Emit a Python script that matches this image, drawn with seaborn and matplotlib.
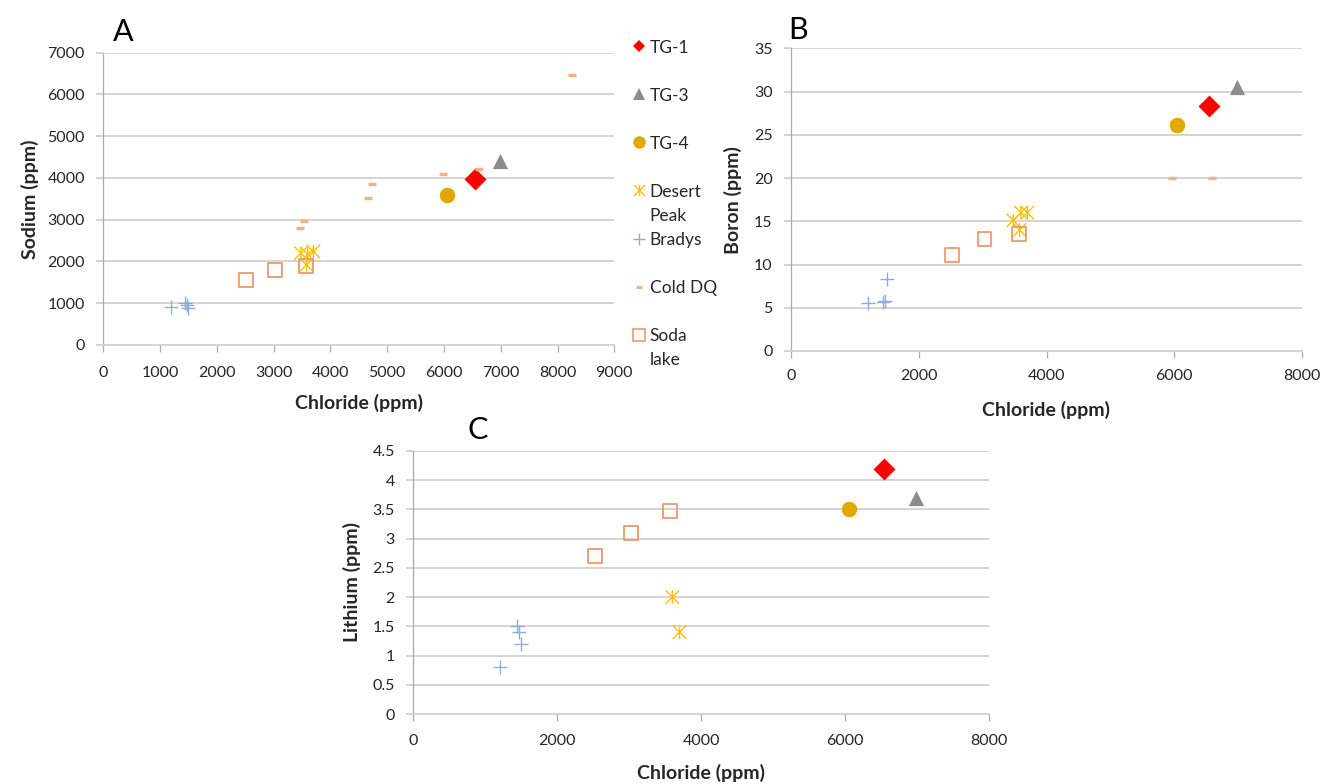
import numpy as np
import pandas as pd
import matplotlib
matplotlib.use("Agg")
import matplotlib.pyplot as plt
from matplotlib.lines import Line2D
from matplotlib.path import Path
from matplotlib.ticker import MultipleLocator, FuncFormatter
import seaborn as sns

sns.set_theme(style="white")
plt.rcParams["font.family"] = ["Lato", "DejaVu Sans"]

# ---- data (ppm) ----
sites = ["TG-1", "TG-3", "TG-4", "Desert Peak", "Bradys", "Cold DQ", "Soda lake"]

tg1_cl = [6540]
tg1_na = [3970]
tg1_b = [28.3]
tg1_li = [4.2]

tg3_cl = [6980]
tg3_na = [4400]
tg3_b = [30.5]
tg3_li = [3.7]

tg4_cl = [6050]
tg4_na = [3600]
tg4_b = [26.1]
tg4_li = [3.5]

dp_cl = [3480, 3600, 3700, 3580]
dp_na = [2200, 2170, 2240, 1920]
dp_b = [15.1, 16.0, 16.0, 14.0]
dp_li_cl = [3600, 3700]
dp_li = [2.0, 1.4]

br_cl = [1200, 1440, 1470, 1500]
br_na = [920, 1000, 960, 880]
br_b = [5.55, 5.7, 5.8, 8.3]
br_li = [0.8, 1.5, 1.4, 1.2]

cdq_na_cl = [3460, 3530, 4670, 4730, 5990, 6610, 8260]
cdq_na = [2790, 2970, 3530, 3850, 4100, 4220, 6470]
cdq_b_cl = [5970, 6590]
cdq_b = [20, 20]

sl_cl = [2520, 3030, 3570]
sl_na = [1560, 1800, 1890]
sl_b = [11.15, 13.0, 13.5]
sl_li = [2.7, 3.1, 3.47]


def frame(pairs):
    rows = []
    for site, xs, ys in pairs:
        for x, y in zip(xs, ys):
            rows.append({"site": site, "chloride": x, "value": y})
    return pd.DataFrame(rows)


sodium = frame([
    ("TG-1", tg1_cl, tg1_na), ("TG-3", tg3_cl, tg3_na), ("TG-4", tg4_cl, tg4_na),
    ("Desert Peak", dp_cl, dp_na), ("Bradys", br_cl, br_na),
    ("Cold DQ", cdq_na_cl, cdq_na), ("Soda lake", sl_cl, sl_na),
])
boron = frame([
    ("TG-1", tg1_cl, tg1_b), ("TG-3", tg3_cl, tg3_b), ("TG-4", tg4_cl, tg4_b),
    ("Desert Peak", dp_cl, dp_b), ("Bradys", br_cl, br_b),
    ("Cold DQ", cdq_b_cl, cdq_b), ("Soda lake", sl_cl, sl_b),
])
lithium = frame([
    ("TG-1", tg1_cl, tg1_li), ("TG-3", tg3_cl, tg3_li), ("TG-4", tg4_cl, tg4_li),
    ("Desert Peak", dp_li_cl, dp_li), ("Bradys", br_cl, br_li),
    ("Soda lake", sl_cl, sl_li),
])

# ---- marker styles ----
asterisk = Path(
    [(-1, -1), (1, 1), (-1, 1), (1, -1), (0, -1), (0, 1)],
    [Path.MOVETO, Path.LINETO, Path.MOVETO, Path.LINETO, Path.MOVETO, Path.LINETO],
)

styles = {
    "TG-1": dict(marker="D", s=125, color="#FF0000", edgecolor="#FF0000", linewidth=0),
    "TG-3": dict(marker="^", s=120, color="#8C8C8C", edgecolor="#8C8C8C", linewidth=0),
    "TG-4": dict(marker="o", s=125, color="#E2A800", edgecolor="#E2A800", linewidth=0),
    "Desert Peak": dict(marker=asterisk, s=95, color="#FFC000", facecolor="none",
                        edgecolor="#FFC000", linewidth=1.0),
    "Bradys": dict(marker="+", s=95, color="#8FAADC", linewidth=1.0),
    "Cold DQ": dict(marker="_", s=40, color="#F4B183", linewidth=2.5),
    "Soda lake": dict(marker="s", s=100, color="#EB9A6B", facecolor="none",
                      edgecolor="#EB9A6B", linewidth=1.3),
}

legend_marks = {
    "TG-1": dict(marker="D", markersize=6.3, color="#FF0000", markeredgewidth=0),
    "TG-3": dict(marker="^", markersize=8.4, color="#8C8C8C", markeredgewidth=0),
    "TG-4": dict(marker="o", markersize=9.0, color="#E2A800", markeredgewidth=0),
    "Desert Peak": dict(marker=asterisk, markersize=8.0, color="#FFC000",
                        markerfacecolor="none", markeredgewidth=1.0),
    "Bradys": dict(marker="+", markersize=8.4, color="#8FAADC", markeredgewidth=1.0),
    "Cold DQ": dict(marker="_", markersize=4.8, color="#F4B183", markeredgewidth=2.3),
    "Soda lake": dict(marker="s", markersize=8.5, color="#EB9A6B",
                      markerfacecolor="none", markeredgewidth=1.2),
}

GRID = "#D4D4D4"
AXIS = "#ADADAD"
TEXT = "#262626"

W, H = 1325, 784
fig = plt.figure(figsize=(W / 100, H / 100), dpi=100)


def px_axes(left, top, right, bottom):
    return fig.add_axes([left / W, 1 - bottom / H, (right - left) / W, (bottom - top) / H])


def draw(ax, data, xmax, xstep, ymax, ystep, xlabel, ylabel, xlab_y, ylab_x, xpad):
    for site in sites:
        sub = data[data["site"] == site]
        if sub.empty:
            continue
        sns.scatterplot(data=sub, x="chloride", y="value", ax=ax, legend=False,
                        zorder=3, clip_on=False, **styles[site])
    ax.set_xlim(0, xmax)
    ax.set_ylim(0, ymax)
    ax.xaxis.set_major_locator(MultipleLocator(xstep))
    ax.yaxis.set_major_locator(MultipleLocator(ystep))
    ax.yaxis.set_major_formatter(FuncFormatter(lambda v, p: f"{v:g}"))
    ax.xaxis.set_major_formatter(FuncFormatter(lambda v, p: f"{v:g}"))
    ax.grid(axis="y", color=GRID, linewidth=1.4)
    ax.grid(axis="x", visible=False)
    ax.set_axisbelow(True)
    for side in ("top", "right"):
        ax.spines[side].set_visible(False)
    ax.spines["left"].set_color(AXIS)
    ax.spines["left"].set_linewidth(0.9)
    ax.spines["bottom"].set_color(GRID)
    ax.spines["bottom"].set_linewidth(1.4)
    ax.tick_params(axis="y", direction="out", length=4.8, width=1.4, color=GRID,
                   labelsize=11.5, labelcolor=TEXT, pad=8.4, left=True)
    ax.tick_params(axis="x", direction="out", length=4.8, width=0.9, color=AXIS,
                   labelsize=11.5, labelcolor=TEXT, pad=xpad, bottom=True)
    ax.set_xlabel(xlabel, fontsize=14, fontweight="bold", color=TEXT, va="center")
    ax.set_ylabel(ylabel, fontsize=14, fontweight="bold", color=TEXT, va="center")
    ax.xaxis.set_label_coords(0.5, xlab_y)
    ax.yaxis.set_label_coords(ylab_x, 0.5)


axA = px_axes(103.3, 52.7, 614.3, 345.0)
axB = px_axes(791.0, 48.3, 1302.0, 351.0)
axC = px_axes(413.3, 451.0, 989.0, 714.0)

draw(axA, sodium, 9000, 1000, 7000, 1000, "Chloride (ppm)", "Sodium (ppm)",
     (345 - 403) / 292.3, (30 - 103.3) / 511.0, 10.2)
draw(axB, boron, 8000, 2000, 35, 5, "Chloride (ppm)", "Boron (ppm)",
     (351 - 410) / 302.7, (733 - 791) / 511.0, 8.0)
draw(axC, lithium, 8000, 2000, 4.5, 0.5, "Chloride (ppm)", "Lithium (ppm)",
     (714 - 773) / 263.0, (352 - 413.3) / 575.7, 9.5)

# panel letters
for letter, (x, y) in {"A": (123, 32), "B": (798, 30), "C": (478, 430)}.items():
    fig.text(x / W, 1 - y / H, letter, ha="center", va="center", fontsize=22, color="black")

# legend: one row per text line, blank rows between entries
blank = Line2D([], [], linestyle="none")
rows = [
    ("TG-1", "TG-1"), (None, " "),
    ("TG-3", "TG-3"), (None, " "),
    ("TG-4", "TG-4"), (None, " "),
    ("Desert Peak", "Desert"), (None, "Peak"),
    ("Bradys", "Bradys"), (None, " "),
    ("Cold DQ", "Cold DQ"), (None, " "),
    ("Soda lake", "Soda"), (None, "lake"),
]
handles, labels = [], []
for site, text in rows:
    if site is None:
        handles.append(blank)
    else:
        handles.append(Line2D([], [], linestyle="none", **legend_marks[site]))
    labels.append(text)

fig.legend(handles, labels, loc="upper left", bbox_to_anchor=(632.4 / W, 1 - 39.6 / H),
           frameon=False, borderpad=0, borderaxespad=0, handlelength=0.8,
           handletextpad=0.2, handleheight=1.0, labelspacing=0.42,
           fontsize=12.5, labelcolor=TEXT)

fig.savefig("out.png", dpi=100)
